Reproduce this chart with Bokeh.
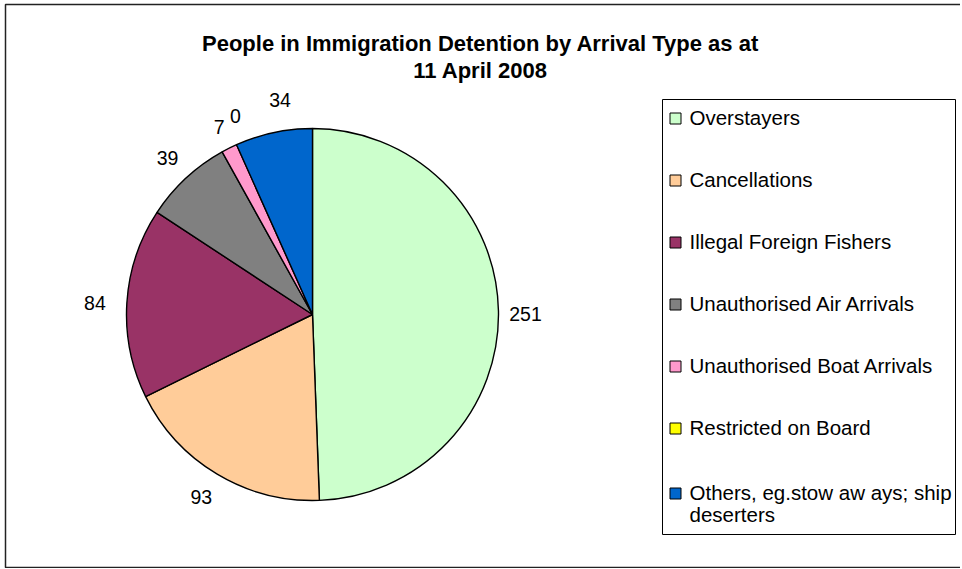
import numpy as np
from bokeh.plotting import figure
from bokeh.models import Range1d, ColumnDataSource
from bokeh.core.properties import value
from bokeh.embed import file_html
from bokeh.resources import INLINE

# ---- data ----
categories = ["Overstayers", "Cancellations", "Illegal Foreign Fishers",
              "Unauthorised Air Arrivals", "Unauthorised Boat Arrivals",
              "Restricted on Board", "Others, eg.stow aw ays; ship deserters"]
counts = [251, 93, 84, 39, 7, 0, 34]
colors = ["#CCFFCC", "#FFCC99", "#993366", "#808080", "#FF99CC", "#FFFF00", "#0066CC"]
legend_text = [["Overstayers"], ["Cancellations"], ["Illegal Foreign Fishers"],
               ["Unauthorised Air Arrivals"], ["Unauthorised Boat Arrivals"],
               ["Restricted on Board"], ["Others, eg.stow aw ays; ship", "deserters"]]
title_lines = ["People in Immigration Detention by Arrival Type as at", "11 April 2008"]

# ---- layout (page pixel coordinates -> data coordinates) ----
W, H = 960, 568
def X(px):
    return px
def Y(py):
    return H - py

FONT = "Liberation Sans"
cx, cy, R = X(312), Y(314), 186
label_r = 213
# small per-label nudges (pixels) to mimic the spreadsheet's overlap avoidance
nudge_x = [0, -2, -5, 0, 2, 10, 12]
nudge_y = [-3, 0, -2, 0, -3, 4, 6]

p = figure(width=W, height=H, x_range=Range1d(0, W), y_range=Range1d(0, H),
           x_axis_type=None, y_axis_type=None, min_border=0,
           toolbar_location=None, output_backend="svg")
p.grid.visible = False
p.outline_line_color = None
p.background_fill_color = "white"
p.border_fill_color = "white"

# chart border
p.quad(left=X(5), right=X(975), top=Y(4), bottom=Y(567),
       fill_color=None, line_color="#222222", line_width=1.5)

vals = np.array(counts, dtype=float)
total = vals.sum()
cum = np.concatenate([[0.0], np.cumsum(vals)])
starts = np.pi / 2 - 2 * np.pi * cum[:-1] / total
ends = np.pi / 2 - 2 * np.pi * cum[1:] / total
mids = (starts + ends) / 2

nz = vals > 0
src = ColumnDataSource(dict(start=starts[nz], end=ends[nz],
                            color=[c for c, k in zip(colors, nz) if k]))
p.wedge(x=cx, y=cy, radius=R, start_angle="start", end_angle="end",
        direction="clock", fill_color="color", line_color="black",
        line_width=1.4, source=src)

# data labels
lx = cx + label_r * np.cos(mids) + np.array(nudge_x)
ly = cy + label_r * np.sin(mids) + np.array(nudge_y)
p.text(x=lx, y=ly, text=[str(c) for c in counts], text_align="center",
       text_baseline="middle", text_font=value(FONT), text_font_size="19.5px",
       text_color="black")

# title
p.text(x=[X(480), X(480)], y=[Y(43), Y(70)], text=title_lines,
       text_align="center", text_baseline="middle", text_font=value(FONT),
       text_font_size="22px", text_font_style="bold", text_color="black")

# legend box
p.quad(left=X(662), right=X(955), top=Y(99), bottom=Y(534),
       fill_color="white", line_color="black", line_width=1)
item_y = [117, 179, 241, 303, 365, 427, 492]
p.rect(x=[X(675)] * len(categories), y=[Y(v + 1) for v in item_y], width=11, height=11,
       fill_color=colors, line_color="black", line_width=1)
tx, ty, tt = [], [], []
for yv, lines in zip(item_y, legend_text):
    for j, ln in enumerate(lines):
        tx.append(X(689))
        ty.append(Y(yv + 22 * j))
        tt.append(ln)
p.text(x=tx, y=ty, text=tt, text_align="left", text_baseline="middle",
       text_font=value(FONT), text_font_size="20.5px", text_color="black")

open("out.html", "w").write(file_html(p, INLINE))
